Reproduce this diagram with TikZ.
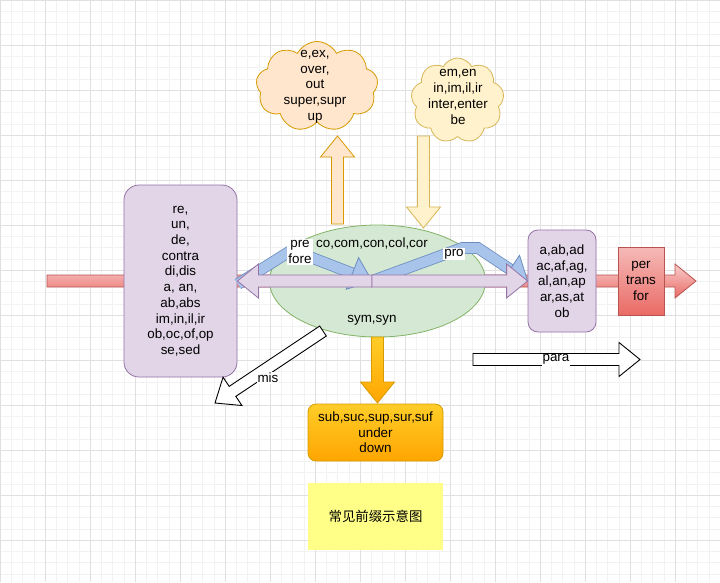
\documentclass[tikz,border=0pt]{standalone}
\usepackage{fontspec}
\setmainfont{Liberation Sans}
\newfontfamily\cjk{Noto Sans CJK SC}
\usepackage{tikz}
\usetikzlibrary{calc,shapes.geometric,shapes.symbols}
\definecolor{purplefill}{HTML}{E1D5E7}
\definecolor{purpleline}{HTML}{9673A6}
\definecolor{greenfill}{HTML}{D5E8D4}
\definecolor{greenline}{HTML}{82B366}
\definecolor{redlight}{HTML}{F8CECC}
\definecolor{reddark}{HTML}{EA6B66}
\definecolor{redline}{HTML}{B85450}
\definecolor{peachfill}{HTML}{FFE6CC}
\definecolor{peachline}{HTML}{D79B00}
\definecolor{creamfill}{HTML}{FFF2CC}
\definecolor{creamline}{HTML}{D6B656}
\definecolor{amberlight}{HTML}{FFCD28}
\definecolor{amberdark}{HTML}{FFA500}
\definecolor{bluefill}{HTML}{A9C4EB}
\definecolor{blueline}{HTML}{6C8EBF}
\definecolor{notefill}{HTML}{FFFF88}
\newcommand{\fatarrow}[3]{\coordinate (hb) at ($(#3)!21pt!(#2)$);
    \draw[#1] ($(#2)!6pt!90:(#3)$) -- ($(hb)!6pt!90:(#3)$) -- ($(hb)!17pt!90:(#3)$) -- (#3)
        -- ($(hb)!17pt!-90:(#3)$) -- ($(hb)!6pt!-90:(#3)$) -- ($(#2)!6pt!-90:(#3)$) -- cycle;}
\newcommand{\bentarrow}[3]{\coordinate (hb) at ($(#3)!21pt!(#2)$);
    \draw[bluebody] #1 -- (#2) -- (hb);
    \draw[bluehead] ($(hb)!17pt!90:(#3)$) -- (#3) -- ($(hb)!17pt!-90:(#3)$) -- cycle;}
\tikzset{
    txt/.style={font=\fontsize{13.4}{15.7}\selectfont, align=center, inner sep=1pt},
    lilac/.style={draw=purpleline, fill=purplefill, line width=0.8pt},
    redarrow/.style={draw=redline, top color=redlight, bottom color=reddark, line width=0.8pt},
    amber/.style={draw=peachline, top color=amberlight, bottom color=amberdark, line width=0.8pt},
    hollow/.style={draw=black, fill=white, line width=0.9pt},
    bluebody/.style={draw=blueline, double=bluefill, double distance=10pt, line width=0.8pt, line join=miter},
    bluehead/.style={draw=blueline, fill=bluefill, line width=0.8pt, line join=miter},
    puff/.style={cloud, cloud puffs=9, cloud puff arc=125, aspect=1.4, line width=0.8pt}
}
\begin{document}
\begin{tikzpicture}[x=1pt, y=-1pt]
    \useasboundingbox (0,0) rectangle (720,582);
    \fill[white] (0,0) rectangle (720,582);
    \draw[black!5, line width=0.5pt, step=11.25pt] (0,0) grid (720,582);
    \draw[black!12, line width=0.6pt, step=45pt] (0,0) grid (720,582);
    \coordinate (redtail) at (47,281);
    \coordinate (redtip) at (696,281);
    \fatarrow{redarrow}{redtail}{redtip}
    \node[lilac, rounded corners=15pt, minimum width=113pt, minimum height=192pt] (lbox) at (180.5,281) {};
    \node[txt] (lboxtxt) at (lbox.center) {re,\\un,\\de,\\contra\\di,dis\\a, an,\\ab,abs\\im,in,il,ir\\ob,oc,of,op\\se,sed};
    \node[lilac, rounded corners=10pt, minimum width=68pt, minimum height=102pt] (rbox) at (562,281) {};
    \node[txt] (rboxtxt) at (rbox.center) {a,ab,ad\\ac,af,ag,\\al,an,ap\\ar,as,at\\ob};
    \node[draw=redline, top color=redlight!80!reddark, bottom color=reddark, line width=0.8pt,
        minimum width=46pt, minimum height=68pt, txt] (pbox) at (641,281) {per\\trans\\for};
    \node[ellipse, draw=greenline, fill=greenfill, line width=0.8pt, minimum width=216pt, minimum height=112pt] (core) at (377.5,281) {};
    \node[txt] (coretop) at (372,243) {co,com,con,col,cor};
    \node[txt] (corebot) at (372,320) {sym,syn};
    \node[puff, draw=peachline, fill=peachfill, minimum width=122pt, minimum height=90pt] (cup) at (317,86.5) {};
    \node[txt] (cuptxt) at (315,86.5) {e,ex,\\over,\\out\\super,supr\\up};
    \node[puff, draw=creamline, fill=creamfill, minimum width=93pt, minimum height=85pt] (cin) at (457.5,100.5) {};
    \node[txt] (cintxt) at (458,97) {em,en\\in,im,il,ir\\inter,enter\\be};
    \coordinate (upfoot) at (337.5,224);
    \coordinate (uptip) at (337.5,136);
    \fatarrow{draw=peachline, fill=peachfill, line width=0.8pt}{upfoot}{uptip}
    \coordinate (intop) at (423.5,136);
    \coordinate (intip) at (423.5,228);
    \fatarrow{draw=creamline, fill=creamfill, line width=0.8pt}{intop}{intip}
    \coordinate (split) at (372,281);
    \coordinate (prebend) at (292,250);
    \coordinate (probend) at (478,248);
    \bentarrow{(238,284)}{prebend}{split}
    \bentarrow{(split) -- (462,248)}{probend}{rbox.west}
    \fatarrow{lilac}{split}{lbox.east}
    \fatarrow{lilac}{split}{rbox.west}
    \node[txt, fill=white] (prelbl) at (300,252) {pre\\fore};
    \node[txt, fill=white] (prolbl) at (454,254) {pro};
    \node[draw=peachline, top color=amberlight, bottom color=amberdark, line width=0.8pt, rounded corners=8pt,
        minimum width=135pt, minimum height=57pt, txt] (down) at (375.5,432.5) {sub,suc,sup,sur,suf\\under\\down};
    \coordinate (downfoot) at (377.5,337);
    \coordinate (downtip) at (377.5,403);
    \fatarrow{amber}{downfoot}{downtip}
    \coordinate (misfoot) at (323,331);
    \coordinate (mistip) at (215,403);
    \fatarrow{hollow}{misfoot}{mistip}
    \node[txt, fill=white] (mislbl) at (268,378) {mis};
    \coordinate (parafoot) at (473,359.5);
    \coordinate (paratip) at (640,359.5);
    \fatarrow{hollow}{parafoot}{paratip}
    \node[txt, fill=white] (paralbl) at (556,359.5) {para};
    \node[fill=notefill, minimum width=135pt, minimum height=67pt, font=\cjk\fontsize{13.4}{15.7}\selectfont] (title) at (375.5,516.5) {常见前缀示意图};
\end{tikzpicture}
\end{document}
